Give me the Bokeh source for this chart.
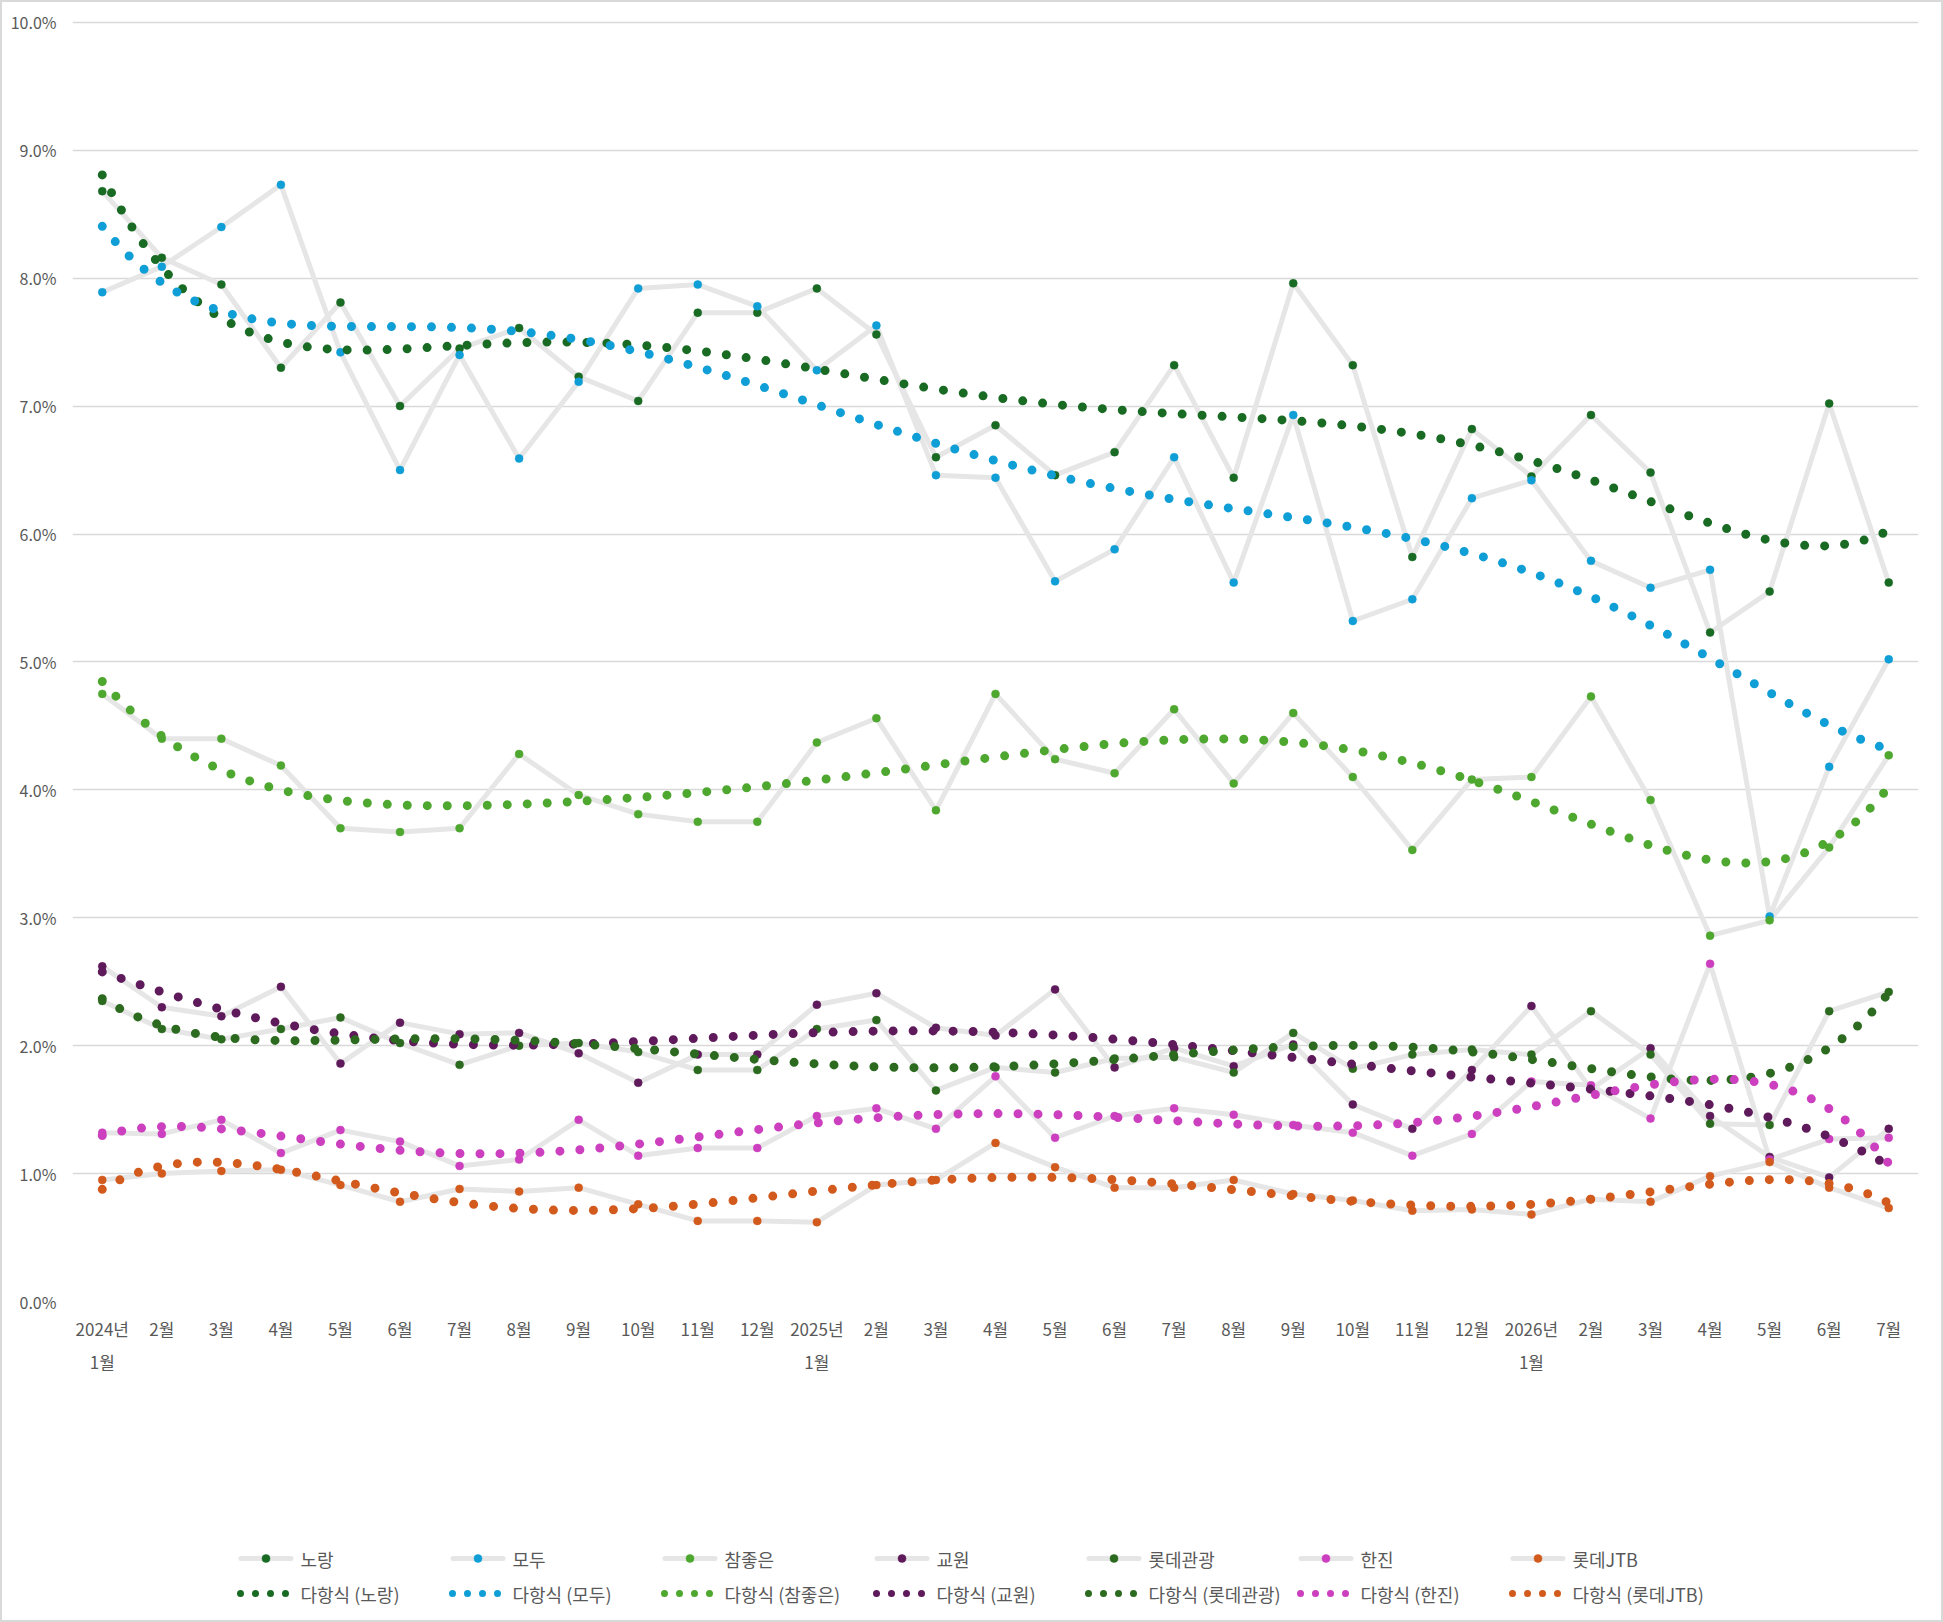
import numpy as np
from bokeh.plotting import figure
from bokeh.layouts import column
from bokeh.models import Range1d, FixedTicker, PrintfTickFormatter
from bokeh.core.properties import value
from bokeh.embed import file_html
from bokeh.resources import INLINE

# ---------------- data (percent) ----------------
month_labels = (["2024년\n1월"] + [f"{m}월" for m in range(2, 13)]
                + ["2025년\n1월"] + [f"{m}월" for m in range(2, 13)]
                + ["2026년\n1월"] + [f"{m}월" for m in range(2, 8)])

series_names = ["노랑", "모두", "참좋은", "교원", "롯데관광", "한진", "롯데JTB"]
series_colors = ["#196B24", "#0F9ED5", "#4EA72E", "#5E1A5A", "#2B6A1F", "#CC3FBF", "#D25A1C"]

norang = [8.68, 8.16, 7.95, 7.30, 7.81, 7.00, 7.45, 7.61, 7.23, 7.04, 7.73, 7.73, 7.92, 7.56, 6.60, 6.85,
          6.46, 6.64, 7.32, 6.44, 7.96, 7.32, 5.82, 6.82, 6.45, 6.93, 6.48, 5.23, 5.55, 7.02, 5.62]
modu = [7.89, 8.09, 8.40, 8.73, 7.42, 6.50, 7.40, 6.59, 7.19, 7.92, 7.95, 7.78, 7.28, 7.63, 6.46, 6.44,
        5.63, 5.88, 6.60, 5.62, 6.93, 5.32, 5.49, 6.28, 6.42, 5.79, 5.58, 5.72, 3.01, 4.18, 5.02]
chamjoeun = [4.75, 4.40, 4.40, 4.19, 3.70, 3.67, 3.70, 4.28, 3.96, 3.81, 3.75, 3.75, 4.37, 4.56, 3.84, 4.75,
             4.24, 4.13, 4.63, 4.05, 4.60, 4.10, 3.53, 4.08, 4.10, 4.73, 3.92, 2.86, 2.98, 3.55, 4.27]
kyowon = [2.62, 2.30, 2.23, 2.46, 1.86, 2.18, 2.09, 2.10, 1.94, 1.71, 1.93, 1.93, 2.32, 2.41, 2.14, 2.08,
          2.44, 1.83, 1.98, 1.84, 2.01, 1.54, 1.35, 1.81, 2.31, 1.66, 1.98, 1.45, 1.13, 0.97, 1.35]
lotte_tour = [2.35, 2.13, 2.05, 2.13, 2.22, 2.02, 1.85, 2.00, 2.02, 1.95, 1.81, 1.81, 2.13, 2.20, 1.65, 1.83,
              1.79, 1.90, 1.91, 1.79, 2.10, 1.82, 1.93, 1.97, 1.93, 2.27, 1.93, 1.39, 1.38, 2.27, 2.42]
hanjin = [1.32, 1.31, 1.42, 1.16, 1.34, 1.25, 1.06, 1.11, 1.42, 1.14, 1.20, 1.20, 1.45, 1.51, 1.35, 1.76,
          1.28, 1.45, 1.51, 1.46, 1.38, 1.32, 1.14, 1.31, 1.72, 1.69, 1.43, 2.64, 1.11, 1.27, 1.28]
lotte_jtb = [0.95, 1.00, 1.02, 1.03, 0.91, 0.78, 0.88, 0.86, 0.89, 0.76, 0.63, 0.63, 0.62, 0.91, 0.95, 1.24,
             1.05, 0.89, 0.89, 0.95, 0.84, 0.79, 0.71, 0.72, 0.68, 0.80, 0.78, 0.98, 1.09, 0.89, 0.73]

series_values = [norang, modu, chamjoeun, kyowon, lotte_tour, hanjin, lotte_jtb]
y_ticks = [0, 1, 2, 3, 4, 5, 6, 7, 8, 9, 10]
trend_order = 6
trend_prefix = "다항식"

# ---------------- styles / layout ----------------
FONT = "Noto Sans CJK KR"
TXT = "#595959"
GRAY = "#e7e6e6"
EDGE = "#d9d9d9"
W, H_MAIN, H_LEG = 1943, 1542, 80
FL, FR, FW = 72, 25, 1846   # frame left border, right border, frame width

x = list(range(len(month_labels)))

p = figure(width=W, height=H_MAIN, frame_width=FW, frame_height=1283,
           min_border_left=FL, min_border_right=FR, min_border_top=18, min_border_bottom=241,
           x_range=Range1d(-0.5, len(x) - 0.5), y_range=Range1d(0, 10.03),
           output_backend="svg", toolbar_location=None)
p.outline_line_color = None
p.background_fill_color = "white"
p.border_fill_color = None
p.styles = {"box-shadow": f"inset 2px 2px 0 0 {EDGE}, inset -2px 0 0 0 {EDGE}"}

p.xgrid.visible = False
p.ygrid.grid_line_color = EDGE
p.ygrid.grid_line_width = 1.5
p.ygrid.ticker = FixedTicker(ticks=y_ticks)

p.yaxis.ticker = FixedTicker(ticks=y_ticks)
p.yaxis.formatter = PrintfTickFormatter(format="%.1f%%")
p.yaxis.axis_line_color = None
p.yaxis.major_tick_line_color = None
p.yaxis.minor_tick_line_color = None
p.yaxis.major_tick_out = 0
p.yaxis.major_label_standoff = 16
p.yaxis.major_label_text_font = FONT
p.yaxis.major_label_text_font_size = "16px"
p.yaxis.major_label_text_color = TXT

p.xaxis.ticker = FixedTicker(ticks=x)
p.xaxis.major_label_overrides = {i: lab for i, lab in enumerate(month_labels)}
p.xaxis.axis_line_color = None
p.xaxis.major_tick_line_color = None
p.xaxis.minor_tick_line_color = None
p.xaxis.major_tick_out = 0
p.xaxis.major_label_standoff = 14
p.xaxis.major_label_text_font = FONT
p.xaxis.major_label_text_font_size = "17px"
p.xaxis.major_label_text_color = TXT
p.xaxis.major_label_text_line_height = 1.34

# data lines (gray) + markers
for vals in series_values:
    p.line(x, vals, line_color=GRAY, line_width=5, line_join="round")
for vals, col in zip(series_values, series_colors):
    p.scatter(x, vals, size=8, fill_color=col, line_color=col, line_width=0.5)

# polynomial trendlines (fitted from the series, like the spreadsheet's trendline)
xs = np.linspace(0, len(x) - 1, 400)
for vals, col in zip(series_values, series_colors):
    poly = np.polynomial.Polynomial.fit(x, vals, trend_order)
    p.line(xs, poly(xs), line_color=col, line_width=9, line_dash="0 20", line_cap="round")

# ---------------- legend strip (drawn below the chart, in page pixels) ----------------
leg = figure(width=W, height=H_LEG, frame_width=FW, frame_height=H_LEG,
             min_border_left=FL, min_border_right=FR, min_border_top=0, min_border_bottom=0,
             x_range=Range1d(FL, FL + FW), y_range=Range1d(H_LEG, 0),
             x_axis_location=None, y_axis_location=None,
             output_backend="svg", toolbar_location=None)
leg.grid.visible = False
leg.outline_line_color = None
leg.background_fill_color = None
leg.border_fill_color = None
leg.styles = {"box-shadow": f"inset 2px -2px 0 0 {EDGE}, inset -2px 0 0 0 {EDGE}"}

ITEM0, ITEM_STEP, GLYPH_W, ROW1, ROW2 = 238, 212, 55, 16, 51
starts = [ITEM0 + ITEM_STEP * k for k in range(len(series_names))]

leg.multi_line([[s + 2.5, s + GLYPH_W - 2.5] for s in starts], [[ROW1, ROW1]] * len(starts),
               line_color=GRAY, line_width=5, line_cap="round")
leg.scatter([s + GLYPH_W / 2 for s in starts], [ROW1] * len(starts), size=8,
            fill_color=series_colors, line_color=series_colors, line_width=0.5)
for s, col in zip(starts, series_colors):
    leg.line([s + 2, s + 48], [ROW2, ROW2], line_color=col, line_width=7,
             line_dash="0 15", line_cap="round")

labels = series_names + [f"{trend_prefix} ({n})" for n in series_names]
leg.text(x=[s + GLYPH_W + 7 for s in starts] * 2,
         y=[ROW1] * len(starts) + [ROW2] * len(starts),
         text=labels, text_font=value(FONT), text_font_size="18px",
         text_color=TXT, text_baseline="middle", text_align="left")

layout = column(p, leg, spacing=0)
open("out.html", "w").write(file_html(layout, INLINE))
